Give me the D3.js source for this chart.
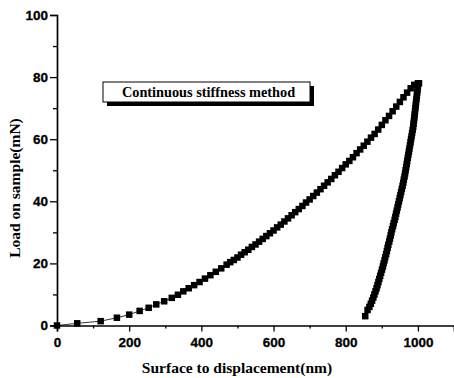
<!DOCTYPE html>
<html>
<head>
<meta charset="utf-8">
<script src="https://cdn.jsdelivr.net/npm/d3@7/dist/d3.min.js"></script>
<style>
  html, body { margin: 0; padding: 0; background: #fff; }
  svg { display: block; }
</style>
</head>
<body>
<svg id="chart" width="454" height="378"></svg>
<script>
// Loading segment: surface displacement (nm) and load on sample (mN)
const loadingDepth = [0, 56, 121, 166, 200, 229, 254, 275, 297, 318, 335, 350, 365, 380, 395, 410, 425, 440, 455, 470, 480,
  490, 500, 510, 520, 530, 540, 550, 560, 570, 580, 590, 600, 610, 620, 630, 640, 650, 660, 670, 680, 690, 700,
  710, 720, 730, 740, 750, 760, 770, 780, 790, 800, 810, 820, 830, 840, 850, 860, 870, 880, 890, 900,
  910, 920, 930, 940, 950, 960, 970, 980, 990, 1000];
const loadingForce = [0, 0.7, 1.4, 2.5, 3.5, 4.7, 5.7, 6.8, 7.8, 8.9, 9.9, 11.0, 12.0, 13.0, 14.0, 15.1, 16.2, 17.3, 18.4, 19.6, 20.4,
  21.1, 21.9, 22.8, 23.6, 24.4, 25.3, 26.1, 27.0, 27.9, 28.8, 29.7, 30.6, 31.6, 32.5, 33.5, 34.5, 35.5, 36.5, 37.5, 38.5, 39.6, 40.6,
  41.7, 42.8, 43.9, 45.0, 46.1, 47.2, 48.4, 49.5, 50.7, 51.9, 53.0, 54.2, 55.5, 56.7, 57.9, 59.2, 60.5, 61.7, 63.1, 64.6,
  66.1, 67.5, 69.0, 70.5, 72.0, 73.5, 75.0, 76.4, 77.5, 78.0];

// Unloading segment
const unloadingDepth = [1003, 1000, 999, 998, 997, 996, 995, 994, 993, 992, 991, 990, 989, 988, 987, 985.5, 984, 982.5, 981, 979.5,
  978, 976.5, 975, 973.5, 972, 970.5, 969, 967.5, 966, 964.5, 963, 961, 959.5, 957.5, 955.5, 953.5, 951.5, 949.5, 947.5,
  945.5, 943.5, 941.5, 939.5, 937.5, 935.5, 933, 931, 928.5, 926.5, 924.5, 922.5, 920.5, 918, 916, 914, 912, 909.5, 907.5,
  905, 903, 900.5, 898, 895.5, 893, 890.5, 888, 885.5, 882.5, 879.5, 876.5, 873, 869.5, 865.5, 860.5, 854];
const unloadingForce = [78, 77, 76, 75, 74, 73, 72, 71, 70, 69, 68, 67, 66, 65, 64, 63, 62, 61, 60, 59,
  58, 57, 56, 55, 54, 53, 52, 51, 50, 49, 48, 47, 46, 45, 44, 43, 42, 41, 40,
  39, 38, 37, 36, 35, 34, 33, 32, 31, 30, 29, 28, 27, 26, 25, 24, 23, 22, 21,
  20, 19, 18, 17, 16, 15, 14, 13, 12, 11, 10, 9, 8, 7, 6, 5, 3];

const xTicks = [0, 200, 400, 600, 800, 1000];
const xMinorTicks = [100, 300, 500, 700, 900, 1100];
const yTicks = [0, 20, 40, 60, 80, 100];
const yMinorTicks = [10, 30, 50, 70, 90];

const svg = d3.select("#chart");
const x = d3.scaleLinear().domain([0, 1100]).range([57, 454]);
const y = d3.scaleLinear().domain([0, 100]).range([325.5, 15]);

const tickFont = "'Liberation Sans', Arial, sans-serif";
const titleFont = "'Liberation Serif', 'Times New Roman', serif";

// Axes
svg.append("g").attr("transform", `translate(0,${y(0)})`)
  .call(d3.axisBottom(x).tickValues(xTicks).tickSize(6).tickPadding(6).tickFormat(d3.format("d")));
svg.append("g").attr("transform", `translate(0,${y(0)})`)
  .call(d3.axisBottom(x).tickValues(xMinorTicks).tickSize(3).tickFormat(""))
  .call(g => g.select(".domain").remove());

svg.append("g").attr("transform", `translate(${x(0)},0)`)
  .call(d3.axisLeft(y).tickValues(yTicks).tickSize(7).tickPadding(2).tickFormat(d3.format("d")));
svg.append("g").attr("transform", `translate(${x(0)},0)`)
  .call(d3.axisLeft(y).tickValues(yMinorTicks).tickSize(4).tickFormat(""))
  .call(g => g.select(".domain").remove());

svg.selectAll(".domain").attr("stroke", "#000").attr("stroke-width", 1.7);
svg.selectAll(".tick line").attr("stroke", "#000").attr("stroke-width", 1.3);
svg.selectAll(".tick text")
  .attr("font-family", tickFont).attr("font-weight", "bold").attr("font-size", 13.5)
  .attr("fill", "#000").attr("stroke", "#000").attr("stroke-width", 0.3);

// Axis titles
svg.append("text")
  .attr("x", 237).attr("y", 373)
  .attr("text-anchor", "middle")
  .attr("font-family", titleFont).attr("font-weight", "bold").attr("font-size", 15.5)
  .text("Surface to displacement(nm)");

svg.append("text")
  .attr("transform", `translate(20,188) rotate(-90)`)
  .attr("text-anchor", "middle")
  .attr("font-family", titleFont).attr("font-weight", "bold").attr("font-size", 15.5)
  .text("Load on sample(mN)");

// Annotation box with drop shadow
const box = { x: 103, y: 82, w: 207, h: 20 };
svg.append("rect").attr("x", box.x + 4).attr("y", box.y + 4).attr("width", box.w).attr("height", box.h).attr("fill", "#000");
svg.append("rect").attr("x", box.x).attr("y", box.y).attr("width", box.w).attr("height", box.h)
  .attr("fill", "#fff").attr("stroke", "#000").attr("stroke-width", 1);
svg.append("text")
  .attr("x", box.x + box.w / 2 + 2).attr("y", box.y + 15)
  .attr("text-anchor", "middle")
  .attr("font-family", titleFont).attr("font-weight", "bold").attr("font-size", 14.3)
  .text("Continuous stiffness method");

// Data
const loading = loadingDepth.map((d, i) => [d, loadingForce[i]]);
const unloading = unloadingDepth.map((d, i) => [d, unloadingForce[i]]);

const line = d3.line().x(d => x(d[0])).y(d => y(d[1]));
svg.append("path").datum(loading.concat(unloading))
  .attr("d", line).attr("fill", "none").attr("stroke", "#000").attr("stroke-width", 0.8);

const size = 6.5;
svg.append("g").selectAll("rect")
  .data(loading.concat(unloading))
  .join("rect")
  .attr("x", d => x(d[0]) - size / 2)
  .attr("y", d => y(d[1]) - size / 2)
  .attr("width", size).attr("height", size)
  .attr("fill", "#000");
</script>
</body>
</html>
